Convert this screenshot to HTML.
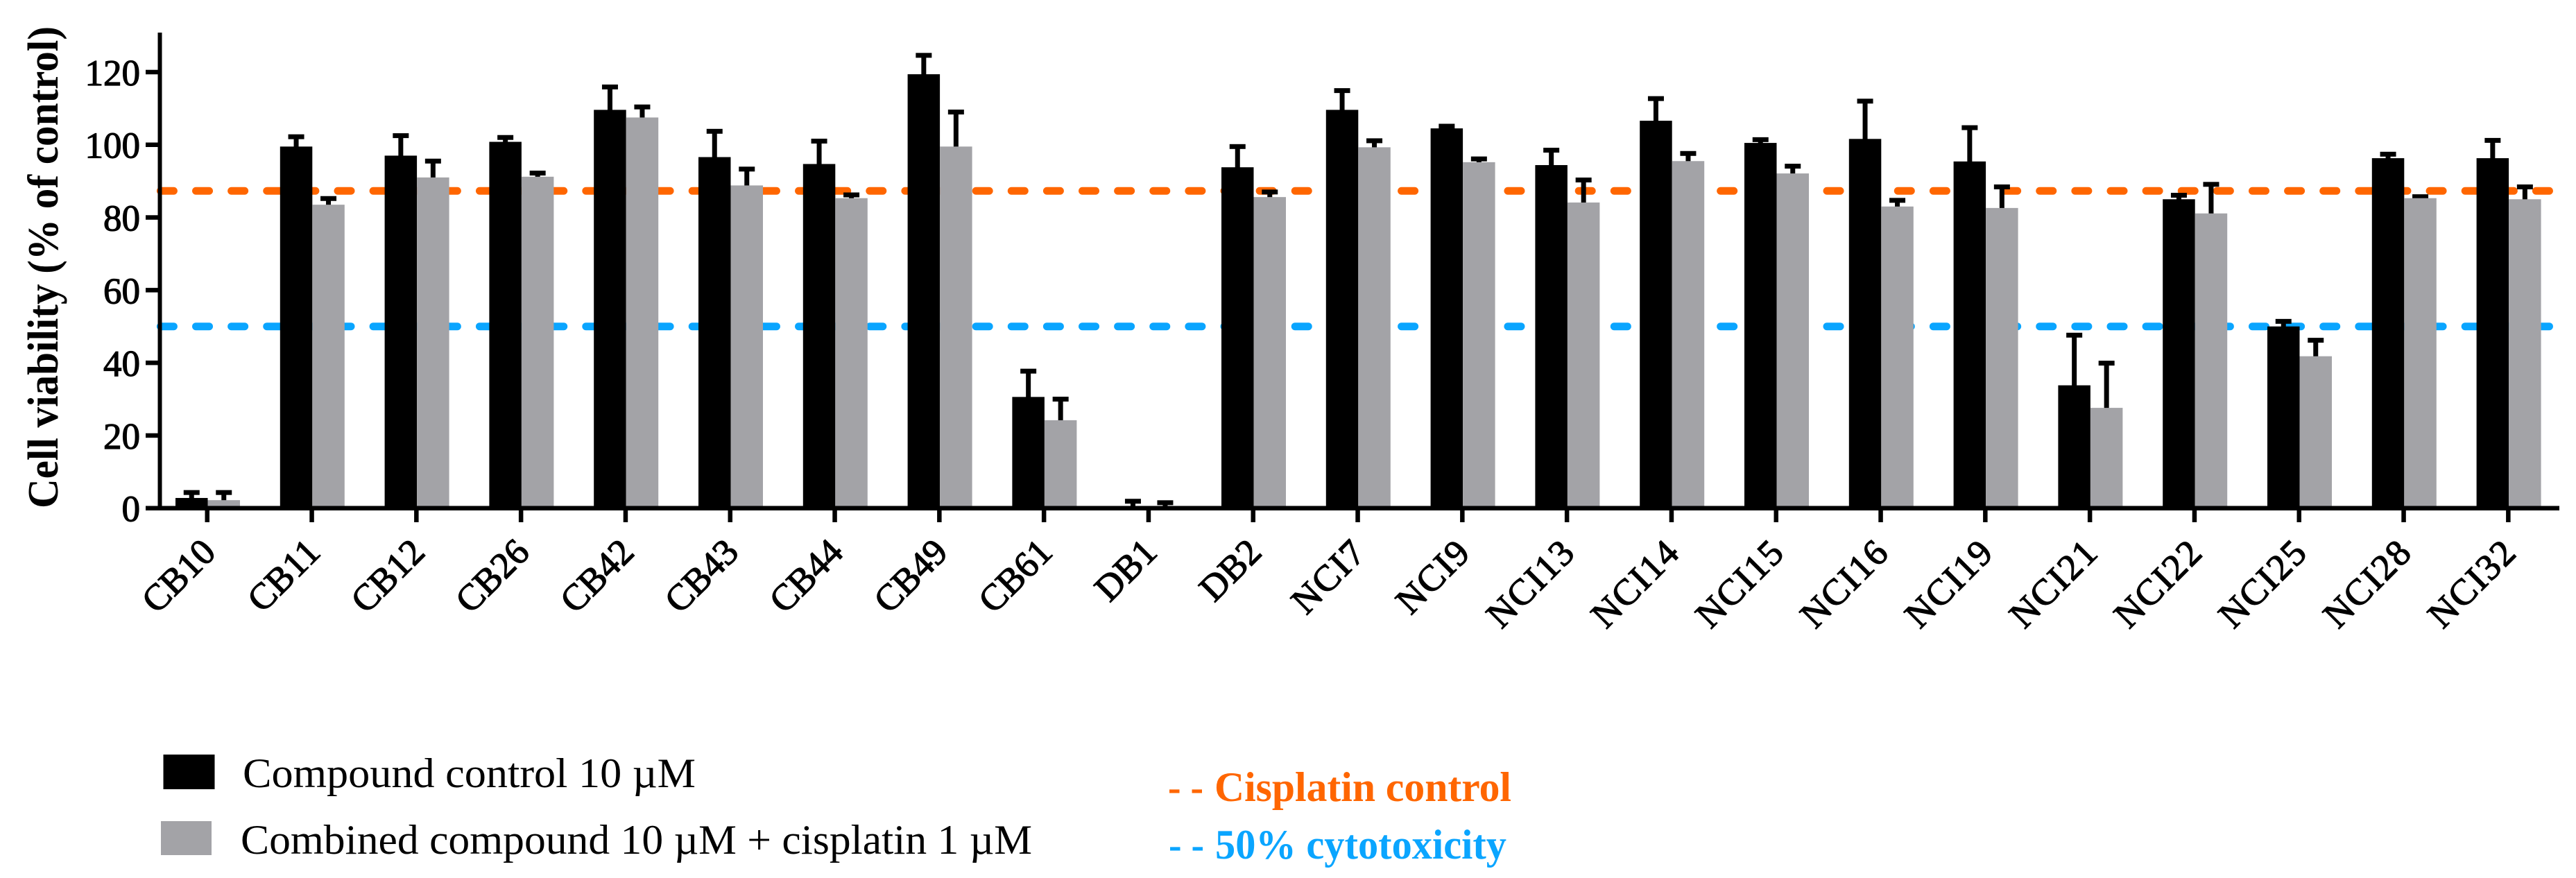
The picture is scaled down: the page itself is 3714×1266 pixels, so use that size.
<!DOCTYPE html>
<html lang="en">
<head>
<meta charset="utf-8">
<title>Cell viability chart</title>
<style>
html,body{margin:0;padding:0;background:#fff;}
svg{display:block;}
text{font-family:"Liberation Serif",serif;}
</style>
</head>
<body>
<svg id="chart" xmlns="http://www.w3.org/2000/svg" width="3714" height="1266" viewBox="0 0 3714 1266">
  <rect x="0" y="0" width="3714" height="1266" fill="#ffffff"/>
  <g id="refs"></g>
  <g id="errs"></g>
  <g id="bars"></g>
  <g id="axes"></g>
  <text transform="translate(83,733) rotate(-90)" font-size="62" font-weight="700" fill="#000" textLength="695" lengthAdjust="spacingAndGlyphs">Cell viability (% of control)</text>
  <g>
    <rect x="235.5" y="1088" width="74" height="50" fill="#000"/>
    <text x="350" y="1135" font-size="60" fill="#000" textLength="653" lengthAdjust="spacingAndGlyphs">Compound control 10 µM</text>
    <rect x="232" y="1184" width="73" height="49" fill="#a3a3a7"/>
    <text x="347" y="1231" font-size="60" fill="#000" textLength="1141" lengthAdjust="spacingAndGlyphs">Combined compound 10 µM + cisplatin 1 µM</text>
    <text x="1684" y="1155" font-size="60" font-weight="700" fill="#ff6600" textLength="51" lengthAdjust="spacingAndGlyphs">- -</text>
    <text x="1751" y="1155" font-size="60" font-weight="700" fill="#ff6600" textLength="428" lengthAdjust="spacingAndGlyphs">Cisplatin control</text>
    <text x="1685" y="1238" font-size="60" font-weight="700" fill="#0aa5ff" textLength="51" lengthAdjust="spacingAndGlyphs">- -</text>
    <text x="1752" y="1238" font-size="60" font-weight="700" fill="#0aa5ff" textLength="420" lengthAdjust="spacingAndGlyphs">50% cytotoxicity</text>
  </g>
</svg>
<script>
const categories = ["CB10","CB11","CB12","CB26","CB42","CB43","CB44","CB49","CB61","DB1","DB2","NCI7","NCI9","NCI13","NCI14","NCI15","NCI16","NCI19","NCI21","NCI22","NCI25","NCI28","NCI32"];
const controlValues = [2.8,99.5,97,100.8,109.6,96.6,94.7,119.4,30.6,0.3,93.8,109.6,104.5,94.4,106.6,100.5,101.6,95.4,33.8,85,50,96.3,96.3];
const controlErrors = [1.5,2.7,5.5,1.2,6.3,7.1,6.3,5.2,7.1,1.6,5.7,5.3,0.6,4.1,6.1,0.9,10.4,9.3,13.8,1.1,1.4,1.1,4.9];
const combinedValues = [2.2,83.5,91,91.2,107.5,88.8,85.3,99.5,24.2,0.3,85.6,99.3,95.2,84.1,95.5,92.1,83,82.6,27.6,81.1,41.8,85.3,85];
const combinedErrors = [2.1,1.7,4.5,1,2.9,4.5,0.9,9.5,5.8,1.2,1.4,1.8,0.9,6.2,2.1,2,1.7,5.8,12.3,8,4.4,0.4,3.4];
const yTicks = [0,20,40,60,80,100,120];
const cisplatinLevel = [87.3];
const cytotoxicityLevel = [50];

const NS = "http://www.w3.org/2000/svg";
const yScale = v => 732.7 - 5.24 * v;
const groupCenter = i => 299.5 + 150.8 * i;
const BAR_W = 46.5;

function make(tag, parent, attrs) {
  const el = document.createElementNS(NS, tag);
  for (const k in attrs) el.setAttribute(k, attrs[k]);
  parent.appendChild(el);
  return el;
}

const refs = document.getElementById("refs");
const errs = document.getElementById("errs");
const bars = document.getElementById("bars");
const axes = document.getElementById("axes");

const refLine1 = make("line", refs, {x1:231.4, x2:3677, y1:yScale(cisplatinLevel[0]), y2:yScale(cisplatinLevel[0]), stroke:"#ff6600", "stroke-width":11, "stroke-dasharray":"19 32.12", "stroke-linecap":"round"});


const refLine2 = make("line", refs, {x1:231.4, x2:3677, y1:yScale(cytotoxicityLevel[0]), y2:yScale(cytotoxicityLevel[0]), stroke:"#0aa5ff", "stroke-width":11, "stroke-dasharray":"19 32.12", "stroke-linecap":"round"});



function drawError(cx, value, err, label) {
  const g = make("g", errs, {});
  
  
  const top = yScale(value + err);
  make("rect", g, {x:cx - 3.5, y:top, width:7, height:Math.max(0, yScale(0) - top), fill:"#000"});
  make("rect", g, {x:cx - 11.5, y:top - 3.5, width:23, height:7, fill:"#000"});
}

categories.forEach((name, i) => {
  const c = groupCenter(i);
  const key = name.toLowerCase();
  drawError(c - BAR_W / 2, controlValues[i], controlErrors[i], key + '-control');
  drawError(c + BAR_W / 2, combinedValues[i], combinedErrors[i], key + '-combined');

  const b1 = make("rect", bars, {x:c - BAR_W, y:yScale(controlValues[i]), width:BAR_W, height:yScale(0) - yScale(controlValues[i]), fill:"#000"});
  
  
  const b2 = make("rect", bars, {x:c, y:yScale(combinedValues[i]), width:BAR_W, height:yScale(0) - yScale(combinedValues[i]), fill:"#a3a3a7"});
  
  
});

const yAxis = make("rect", axes, {x:227.5, y:47, width:6, height:689, fill:"#000"});


const xAxis = make("rect", axes, {x:210, y:729.5, width:3480, height:6.5, fill:"#000"});



yTicks.forEach(v => {
  const y = yScale(v);
  const t = make("rect", axes, {x:210, y:y - 3.2, width:20, height:6.5, fill:"#000"});
  
  
  const l = make("text", axes, {x:202, y:y + 19, "font-size":53, "text-anchor":"end", fill:"#000", stroke:"#000", "stroke-width":1.2});
  
  
  l.textContent = String(v);
});

categories.forEach((name, i) => {
  const tx = groupCenter(i) - 1;
  const t = make("rect", axes, {x:tx - 3, y:733, width:6.5, height:20, fill:"#000"});
  
  
  const l = make("text", axes, {transform:"translate(" + (tx + 15) + ",799) rotate(-45)", "font-size":53, "text-anchor":"end", fill:"#000", stroke:"#000", "stroke-width":1.3});
  
  
  if (name.indexOf("NCI") === 0) l.style.letterSpacing = "2px";
  l.textContent = name;
});
</script>
</body>
</html>
